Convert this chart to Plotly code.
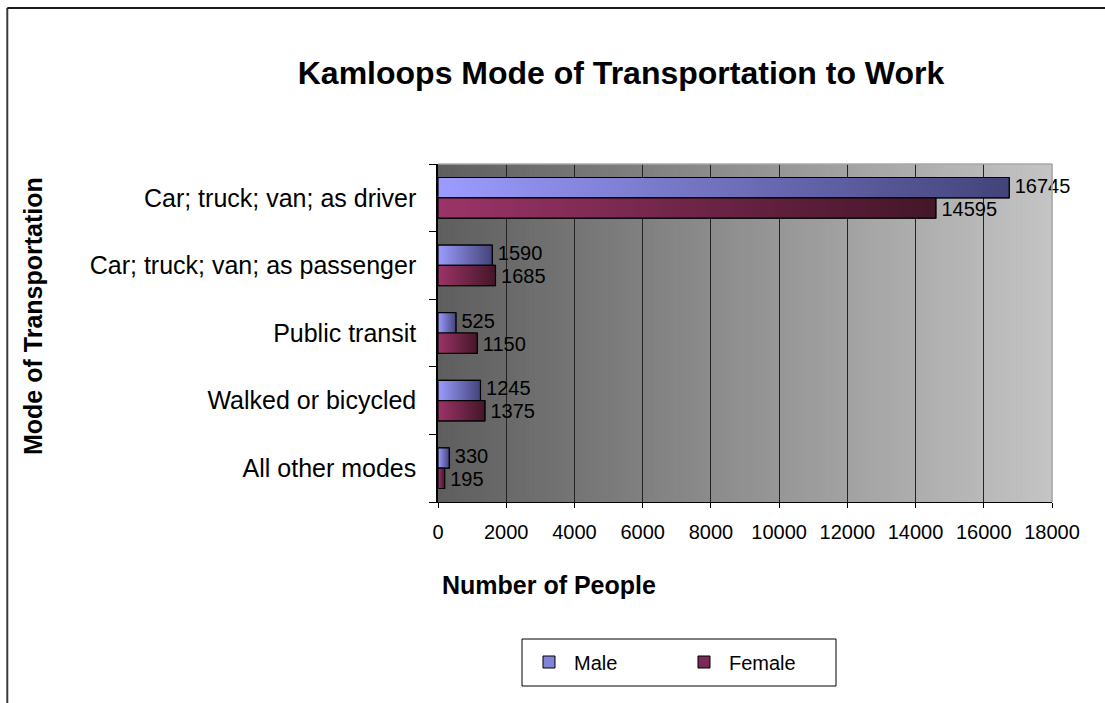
import plotly.graph_objects as go

categories = ["Car; truck; van; as driver", "Car; truck; van; as passenger",
              "Public transit", "Walked or bicycled", "All other modes"]
male = [16745, 1590, 525, 1245, 330]
female = [14595, 1685, 1150, 1375, 195]
x_ticks = [0, 2000, 4000, 6000, 8000, 10000, 12000, 14000, 16000, 18000]

FONT = "Liberation Sans, Arial, sans-serif"
W = 0.3  # thickness of one bar (category units)

series = [
    ("Male", male, "#8383D8", ["#9C9CFF", "#43437A"], -W),
    ("Female", female, "#7A2A55", ["#9B3468", "#441628"], 0.0),
]

fig = go.Figure()
idx = list(range(len(categories)))

# real bar traces (legend + base marks)
for name, vals, col, grad, off in series:
    fig.add_trace(go.Bar(
        x=vals, y=idx, orientation="h", name=name,
        width=W, offset=off,
        marker=dict(color=col, line=dict(color="black", width=1)),
        hoverinfo="skip",
    ))

# gradient overlays for each bar
for name, vals, col, grad, off in series:
    for i, v in enumerate(vals):
        y0, y1 = i + off, i + off + W
        fig.add_trace(go.Scatter(
            x=[0, v, v, 0, 0], y=[y0, y0, y1, y1, y0],
            mode="lines", fill="toself",
            fillgradient=dict(type="horizontal",
                              colorscale=[[0, grad[0]], [1, grad[1]]]),
            line=dict(color="black", width=1.2),
            showlegend=False, hoverinfo="skip",
        ))
    # value labels
    fig.add_trace(go.Scatter(
        x=vals, y=[i + off + W / 2 + (0.04 if off == 0 else 0) for i in idx],
        mode="text", text=[" " + str(v) for v in vals],
        textposition="middle right", cliponaxis=False,
        textfont=dict(family=FONT, size=20, color="black"),
        showlegend=False, hoverinfo="skip",
    ))

# background gradient of plot area
shapes = []
N = 120
c0, c1 = 0x5E, 0xC4
for k in range(N):
    t = (k + 0.5) / N
    g = int(round(c0 + (c1 - c0) * t))
    shapes.append(dict(type="rect", xref="x domain", yref="y domain",
                       x0=k / N, x1=(k + 1) / N + 0.001, y0=0, y1=1,
                       fillcolor=f"rgb({g},{g},{g})", line=dict(width=0),
                       layer="below"))
# light plot border (top and right)
shapes.append(dict(type="line", xref="x domain", yref="y domain",
                   x0=0, x1=1, y0=1, y1=1, line=dict(color="#A8A8A8", width=1.5),
                   layer="above"))
shapes.append(dict(type="line", xref="x domain", yref="y domain",
                   x0=1, x1=1, y0=0, y1=1, line=dict(color="#A8A8A8", width=1.5),
                   layer="above"))
# outer chart frame (left and top edges visible)
shapes.append(dict(type="line", xref="paper", yref="paper",
                   x0=-0.7015, x1=-0.7015, y0=1.4615, y1=-1.0,
                   line=dict(color="#3A3A3A", width=2)))
shapes.append(dict(type="line", xref="paper", yref="paper",
                   x0=-0.7015, x1=1.2, y0=1.4615, y1=1.4615,
                   line=dict(color="#1A1A1A", width=2)))
# legend box
shapes.append(dict(type="rect", xref="paper", yref="paper",
                   x0=(522 - 438) / 614, x1=(836 - 438) / 614,
                   y0=(502 - 639) / 338, y1=(502 - 686) / 338,
                   fillcolor="white", line=dict(color="black", width=1),
                   layer="above"))

fig.update_layout(
    width=1105, height=703,
    margin=dict(l=438, r=53, t=164, b=201),
    paper_bgcolor="white", plot_bgcolor="#909090",
    font=dict(family=FONT, size=20, color="black"),
    barmode="overlay",
    showlegend=True,
    hovermode=False,
    shapes=shapes,
    title=dict(text="<b>Kamloops Mode of Transportation to Work</b>",
               font=dict(family=FONT, size=32, color="black"),
               x=621 / 1105, xanchor="center", xref="container",
               y=1 - 73 / 703, yanchor="middle", yref="container"),
    legend=dict(orientation="h", x=0.3925, xanchor="center",
                y=(502 - 662) / 338, yanchor="middle",
                borderwidth=0, bgcolor="rgba(0,0,0,0)",
                font=dict(family=FONT, size=20, color="black"),
                entrywidth=100, itemwidth=40),
    annotations=[
        dict(text="<b>Number of People</b>", xref="paper", yref="paper",
             x=(549 - 438) / 614, y=(502 - 585) / 338,
             xanchor="center", yanchor="middle", showarrow=False,
             font=dict(family=FONT, size=25, color="black")),
        dict(text="<b>Mode of Transportation</b>", xref="paper", yref="paper",
             x=(33 - 438) / 614, y=(502 - 316) / 338, textangle=-90,
             xanchor="center", yanchor="middle", showarrow=False,
             font=dict(family=FONT, size=25, color="black")),
    ],
)

fig.update_xaxes(
    range=[0, 18000], tickvals=x_ticks, tickformat="d",
    ticks="outside", ticklen=5,
    tickcolor="black", showline=True, linecolor="black", linewidth=1,
    showgrid=True, gridcolor="#222222", gridwidth=1, zeroline=False,
    ticklabelstandoff=7, tickfont=dict(family=FONT, size=20, color="black"),
)
fig.update_yaxes(
    range=[len(categories) - 0.5, -0.5], tickvals=idx, ticktext=categories,
    ticks="", showline=True, linecolor="black", linewidth=1.5,
    showgrid=False, zeroline=False, ticklabelstandoff=15,
    tickfont=dict(family=FONT, size=25, color="black"),
    minor=dict(tickvals=[i - 0.5 for i in range(len(categories) + 1)],
               ticks="outside", ticklen=7, tickcolor="black", showgrid=False),
)

fig.write_html("out.html", config={"displayModeBar": False},
               post_script="document.body.style.margin='0';")
